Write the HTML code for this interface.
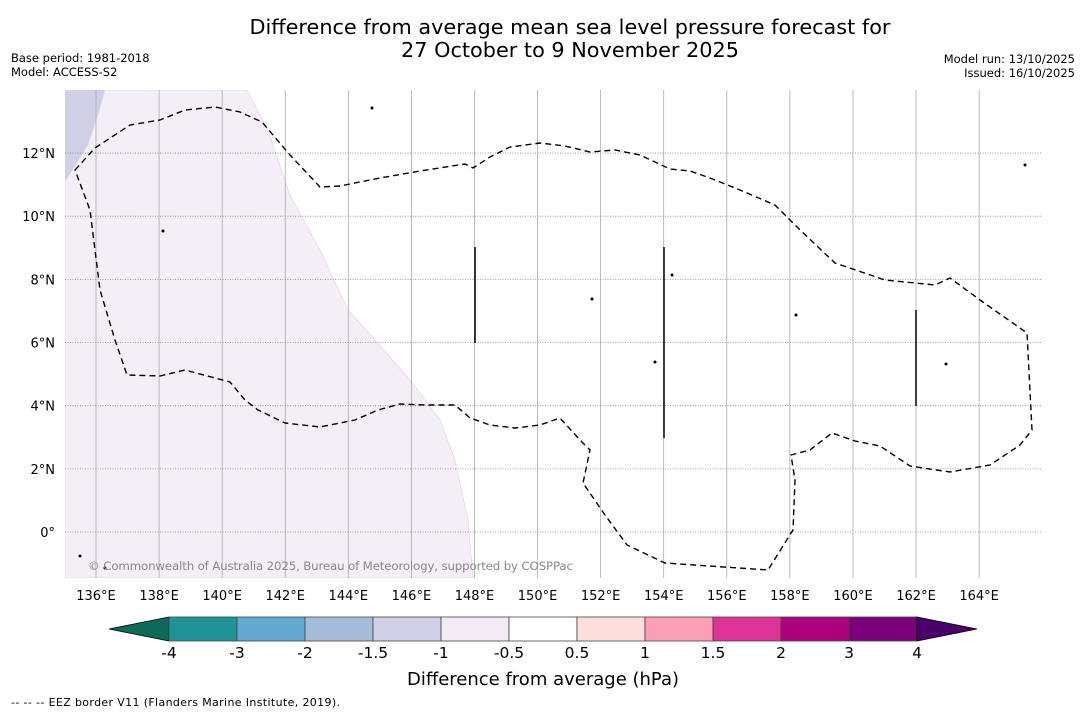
<!DOCTYPE html>
<html><head><meta charset="utf-8"><style>
body{margin:0;background:#fff;font-family:"DejaVu Sans","Liberation Sans",sans-serif;}
svg{display:block}
</style></head><body>
<svg id="c" width="1085" height="713" xmlns="http://www.w3.org/2000/svg">
<text x="570" y="34" font-size="20.8" text-anchor="middle">Difference from average mean sea level pressure forecast for</text>
<text x="570" y="57" font-size="20.8" text-anchor="middle">27 October to 9 November 2025</text>
<text x="11" y="62" font-size="11.5">Base period: 1981-2018</text>
<text x="11" y="76" font-size="11.5">Model: ACCESS-S2</text>
<text x="1075" y="63" font-size="11.5" text-anchor="end">Model run: 13/10/2025</text>
<text x="1075" y="77" font-size="11.5" text-anchor="end">Issued: 16/10/2025</text>
<text x="11" y="706" font-size="11" textLength="329">--  --  -- EEZ border V11 (Flanders Marine Institute, 2019).</text>
<g id="map"></g>
<g id="cbar"></g>
<text x="543" y="685" font-size="18" text-anchor="middle">Difference from average (hPa)</text>
</svg>
<script>
const NS="http://www.w3.org/2000/svg";
const lonTicks=[136,138,140,142,144,146,148,150,152,154,156,158,160,162,164];
const latTicks=[0,2,4,6,8,10,12];
const levels=[-4,-3,-2,-1.5,-1,-0.5,0.5,1,1.5,2,3,4];
const levelLabels=["-4","-3","-2","-1.5","-1","-0.5","0.5","1","1.5","2","3","4"];
const binColors=["#1f9396","#64a9cf","#a6bcdb","#d0d1e6","#f3ebf4","#ffffff","#fde0dd","#fa9fb5","#dd3497","#ae017e","#7a0177"];
const underColor="#0b6b58", overColor="#49006a";
const X0=65,X1=1042,Y0=90,Y1=578;
const lon=v=>96+(v-136)*31.54;
const lat=v=>532-v*31.58;
function el(t,a,p){const e=document.createElementNS(NS,t);for(const k in a)e.setAttribute(k,a[k]);(p||document.getElementById('map')).appendChild(e);return e;}
const cp=el('clipPath',{id:'mc'});el('rect',{x:X0,y:Y0,width:X1-X0,height:Y1-Y0},cp);
const g=el('g',{'clip-path':'url(#mc)'});
let e;
e=el('path',{d:"M65,90 L247,90 L268,130 L290,195 L320,250 L348,310 L375,340 L410,380 L440,420 L455,460 L468,520 L473,578 L65,578Z",fill:"#f4eef6",stroke:"#ddd0e4","stroke-width":0.6},g);

e=el('path',{d:"M65,90 L105,90 L99,112 L88,145 L65,182Z",fill:"#cfd0e6"},g);

lonTicks.forEach(v=>{const l=el('line',{x1:lon(v),x2:lon(v),y1:Y0,y2:Y1,stroke:"#aaa","stroke-width":0.8},g);

const t=el('text',{x:lon(v),y:600,'font-size':13,'text-anchor':'middle'});t.textContent=v+"°E";
});
latTicks.forEach(v=>{const l=el('line',{x1:X0,x2:X1,y1:lat(v),y2:lat(v),stroke:"#888","stroke-width":0.8,'stroke-dasharray':'1,1.5'},g);

const t=el('text',{x:55,y:lat(v)+5,'font-size':13,'text-anchor':'end'});t.textContent=v===0?"0°":v+"°N";
});
const eez="M75,170 L95,148 L130,125 L160,120 L185,110 L215,107 L240,112 L262,122 L290,155 L320,187 L340,186 L380,178 L420,171 L465,164 L473,168 L490,157 L510,147 L540,143 L565,146 L590,152 L615,150 L640,155 L670,169 L690,171 L710,178 L740,190 L775,205 L800,230 L835,263 L885,280 L935,285 L950,278 L980,300 L1027,333 L1032,430 L1020,445 L990,465 L950,472 L910,466 L880,446 L855,441 L832,433 L810,450 L791,455 L795,480 L793,530 L768,570 L665,563 L627,545 L605,515 L583,483 L590,450 L580,440 L560,418 L540,425 L515,428 L490,425 L470,418 L455,405 L425,405 L400,404 L378,410 L355,420 L320,427 L285,423 L258,410 L245,400 L230,382 L185,370 L160,376 L127,375 L115,340 L100,290 L95,250 L90,210 Z";
e=el('path',{d:eez,fill:"none",stroke:"#000","stroke-width":1.4,'stroke-dasharray':'6,4'},g);

[[475,247,343],[664,247,438],[916,310,406]].forEach(a=>{const l=el('line',{x1:a[0],x2:a[0],y1:a[1],y2:a[2],stroke:"#000","stroke-width":1.5},g);
});
[[372,108],[163,231],[592,299],[796,315],[946,364],[672,275],[655,362],[80,556],[105,568],[1025,165]].forEach(p=>{const c=el('circle',{cx:p[0],cy:p[1],r:1.5,fill:"#000"},g);
});
e=el('text',{x:88,y:570,'font-size':11.8,fill:"#888",textLength:485},g);e.textContent="© Commonwealth of Australia 2025, Bureau of Meteorology, supported by COSPPac";

const cb=document.getElementById('cbar');
const cx0=169,cw=68,cy0=617,ch=24;
e=el('path',{d:`M${cx0},${cy0} L109,${cy0+ch/2} L${cx0},${cy0+ch}Z`,fill:underColor,stroke:"#000","stroke-width":0.8},cb);

binColors.forEach((c,i)=>{const r=el('rect',{x:cx0+i*cw,y:cy0,width:cw,height:ch,fill:c,stroke:"#444","stroke-width":0.8},cb);
});
const xe=cx0+binColors.length*cw;
e=el('path',{d:`M${xe},${cy0} L977,${cy0+ch/2} L${xe},${cy0+ch}Z`,fill:overColor,stroke:"#000","stroke-width":0.8},cb);

levels.forEach((v,i)=>{const t=el('text',{x:cx0+i*cw,y:658,'font-size':15.5,'text-anchor':'middle'},cb);t.textContent=levelLabels[i];
});
</script>
</body></html>
